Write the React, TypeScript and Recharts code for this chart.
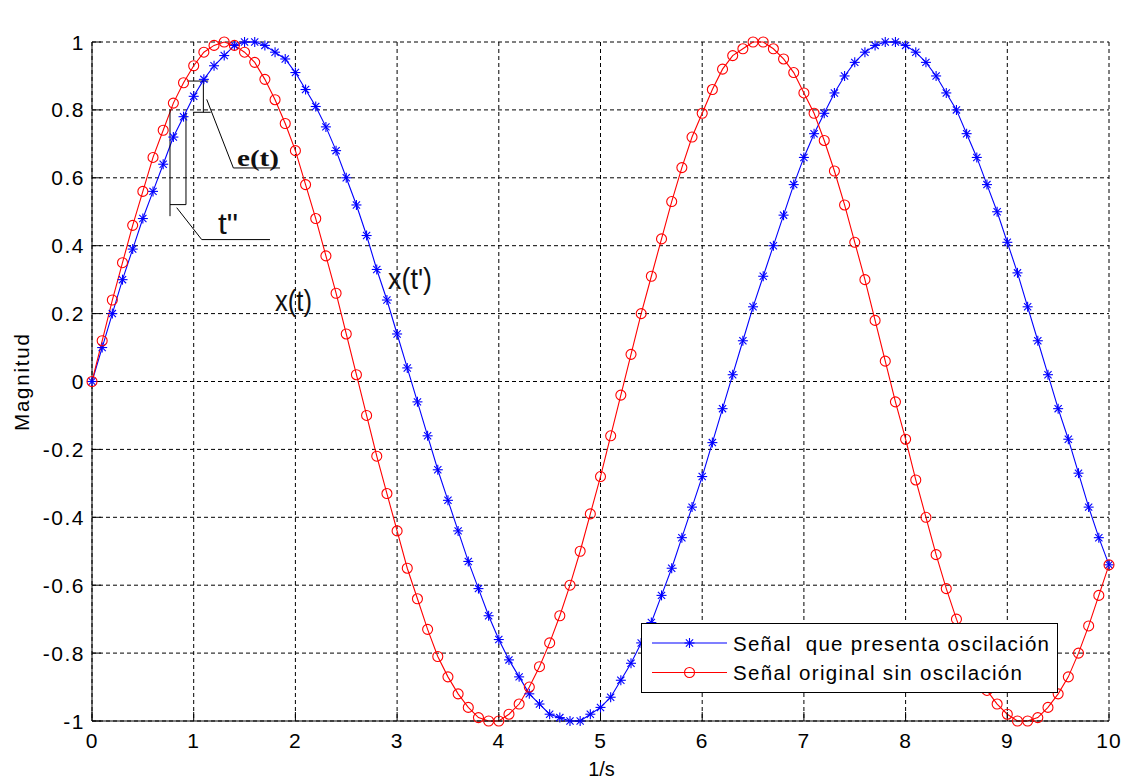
import React from 'react';
import {
  LineChart,
  Line,
  XAxis,
  YAxis,
  CartesianGrid,
  Legend,
  ReferenceLine,
  ReferenceDot,
} from 'recharts';

// Sample instants (s)
const timeValues = [
  0, 0.1, 0.2, 0.3, 0.4, 0.5, 0.6, 0.7, 0.8, 0.9,
  1, 1.1, 1.2, 1.3, 1.4, 1.5, 1.6, 1.7, 1.8, 1.9,
  2, 2.1, 2.2, 2.3, 2.4, 2.5, 2.6, 2.7, 2.8, 2.9,
  3, 3.1, 3.2, 3.3, 3.4, 3.5, 3.6, 3.7, 3.8, 3.9,
  4, 4.1, 4.2, 4.3, 4.4, 4.5, 4.6, 4.7, 4.8, 4.9,
  5, 5.1, 5.2, 5.3, 5.4, 5.5, 5.6, 5.7, 5.8, 5.9,
  6, 6.1, 6.2, 6.3, 6.4, 6.5, 6.6, 6.7, 6.8, 6.9,
  7, 7.1, 7.2, 7.3, 7.4, 7.5, 7.6, 7.7, 7.8, 7.9,
  8, 8.1, 8.2, 8.3, 8.4, 8.5, 8.6, 8.7, 8.8, 8.9,
  9, 9.1, 9.2, 9.3, 9.4, 9.5, 9.6, 9.7, 9.8, 9.9,
  10,
];

// Señal que presenta oscilación (azul, marcador *)
const oscillatingSignal = [
  0, 0.1, 0.2, 0.3, 0.39, 0.48, 0.56, 0.64, 0.72, 0.78,
  0.84, 0.89, 0.93, 0.96, 0.99, 1.0, 1.0, 0.99, 0.97, 0.95,
  0.91, 0.86, 0.81, 0.75, 0.68, 0.6, 0.52, 0.43, 0.33, 0.24,
  0.14, 0.04, -0.06, -0.16, -0.26, -0.35, -0.44, -0.53, -0.61, -0.69,
  -0.76, -0.82, -0.87, -0.92, -0.95, -0.98, -0.99, -1.0, -1.0, -0.98,
  -0.96, -0.93, -0.88, -0.83, -0.77, -0.71, -0.63, -0.55, -0.46, -0.37,
  -0.28, -0.18, -0.08, 0.02, 0.12, 0.22, 0.31, 0.4, 0.49, 0.58,
  0.66, 0.73, 0.79, 0.85, 0.9, 0.94, 0.97, 0.99, 1.0, 1.0,
  0.99, 0.97, 0.94, 0.9, 0.85, 0.8, 0.73, 0.66, 0.58, 0.5,
  0.41, 0.32, 0.22, 0.12, 0.02, -0.08, -0.17, -0.27, -0.37, -0.46,
  -0.54,
];

// Señal original sin oscilación (rojo, marcador o)
const originalSignal = [
  0, 0.12, 0.24, 0.35, 0.46, 0.56, 0.66, 0.74, 0.82, 0.88,
  0.93, 0.97, 0.99, 1.0, 0.99, 0.97, 0.94, 0.89, 0.83, 0.76,
  0.68, 0.58, 0.48, 0.37, 0.26, 0.14, 0.02, -0.1, -0.22, -0.33,
  -0.44, -0.55, -0.64, -0.73, -0.81, -0.87, -0.92, -0.96, -0.99, -1.0,
  -1.0, -0.98, -0.95, -0.9, -0.84, -0.77, -0.69, -0.6, -0.5, -0.39,
  -0.28, -0.16, -0.04, 0.08, 0.2, 0.31, 0.42, 0.53, 0.63, 0.72,
  0.79, 0.86, 0.92, 0.96, 0.98, 1.0, 1.0, 0.98, 0.95, 0.91,
  0.85, 0.79, 0.71, 0.62, 0.52, 0.41, 0.3, 0.18, 0.06, -0.06,
  -0.17, -0.29, -0.4, -0.51, -0.61, -0.7, -0.78, -0.85, -0.91, -0.95,
  -0.98, -1.0, -1.0, -0.99, -0.96, -0.92, -0.87, -0.8, -0.72, -0.63,
  -0.54,
];

const xTicks = [0, 1, 2, 3, 4, 5, 6, 7, 8, 9, 10];
const yTicks = [-1, -0.8, -0.6, -0.4, -0.2, 0, 0.2, 0.4, 0.6, 0.8, 1];

const titleText = 'Señal real y señal muestreada con error';
const xLabelText = '1/s';
const yLabelText = 'Magnitud';
const legendLabels = ['Señal  que presenta oscilación', 'Señal original sin oscilación'];

// Hand-drawn brackets marking e(t) and t'' (in axis units)
const bracketSegments: [number, number, number, number][] = [
  [0.936, 0.885, 1.143, 0.885],
  [1.095, 0.885, 1.095, 0.793],
  [0.996, 0.793, 1.167, 0.793],
  [1.128, 0.831, 1.39, 0.629],
  [1.39, 0.629, 1.849, 0.629],
  [0.767, 0.801, 0.767, 0.487],
  [0.924, 0.791, 0.924, 0.521],
  [0.767, 0.521, 0.924, 0.521],
  [0.833, 0.512, 1.079, 0.418],
  [1.079, 0.418, 1.75, 0.418],
];

// Text notes placed in axis units (left edge, baseline)
const notes = [
  { text: 'e(t)', x: 1.426, y: 0.636, serif: true },
  { text: 't"', x: 1.239, y: 0.433, serif: false },
  { text: 'x(t)', x: 1.799, y: 0.207, serif: false },
  { text: "x(t')", x: 2.911, y: 0.273, serif: false },
];

const chartData = timeValues.map((t, i) => ({
  t,
  oscillating: oscillatingSignal[i],
  original: originalSignal[i],
}));

const SANS = '"Liberation Sans", Arial, Helvetica, sans-serif';
const NARROW = '"Liberation Sans Narrow", "Arial Narrow", "Liberation Sans", Arial, sans-serif';
const SERIF = '"Liberation Serif", "Times New Roman", serif';
const BLUE = '#0000ff';
const RED = '#ff0000';

const noteStyle: Record<string, { size: number; length: number }> = {
  'e(t)': { size: 24, length: 42 },
  't"': { size: 30, length: 20 },
  'x(t)': { size: 29, length: 37 },
  "x(t')": { size: 29, length: 44 },
};

const Asterisk = ({ cx, cy, color }: { cx: number; cy: number; color: string }) => {
  const a = 5;
  const d = 3.6;
  return (
    <g stroke={color} strokeWidth={1.1} fill="none">
      <line x1={cx - a} y1={cy} x2={cx + a} y2={cy} />
      <line x1={cx} y1={cy - a} x2={cx} y2={cy + a} />
      <line x1={cx - d} y1={cy - d} x2={cx + d} y2={cy + d} />
      <line x1={cx - d} y1={cy + d} x2={cx + d} y2={cy - d} />
    </g>
  );
};

const Ring = ({ cx, cy, color }: { cx: number; cy: number; color: string }) => (
  <circle cx={cx} cy={cy} r={5} stroke={color} strokeWidth={1.1} fill="none" />
);

const XTick = (props: any) => {
  const { x, y, payload } = props;
  return (
    <text x={x} y={y} dy="0.71em" textAnchor="middle" fontSize={21} fontFamily={SANS} fill="#000" letterSpacing={1}>
      {String(payload.value)}
    </text>
  );
};

const YTick = (props: any) => {
  const { x, y, payload } = props;
  return (
    <text x={x} y={y} dy="0.36em" textAnchor="end" fontSize={21} fontFamily={SANS} fill="#000" letterSpacing={1.5}>
      {String(payload.value)}
    </text>
  );
};

const TitleLabel = (props: any) => {
  const vb = props.viewBox || { x: 92, y: 42, width: 1017 };
  return (
    <text
      x={vb.x + vb.width / 2 + 4}
      y={vb.y - 18}
      textAnchor="middle"
      fontSize={20.5}
      fontFamily={SANS}
      fill="#000"
      textLength={410}
      lengthAdjust="spacing"
    >
      {titleText}
    </text>
  );
};

const YLabel = (props: any) => {
  const vb = props.viewBox || { x: 0, y: 42, width: 92, height: 679 };
  const cx = 29;
  const cy = vb.y + vb.height / 2 + 1;
  return (
    <text
      x={cx}
      y={cy}
      transform={`rotate(-90 ${cx} ${cy})`}
      textAnchor="middle"
      fontSize={20.5}
      fontFamily={SANS}
      fill="#000"
      textLength={97}
      lengthAdjust="spacing"
    >
      {yLabelText}
    </text>
  );
};

const XLabel = (props: any) => {
  const vb = props.viewBox || { x: 92, y: 721, width: 1017, height: 61 };
  return (
    <text x={vb.x + vb.width / 2 + 1} y={vb.y + vb.height - 6} textAnchor="middle" fontSize={20} fontFamily={SANS} fill="#000">
      {xLabelText}
    </text>
  );
};

const LegendBox = () => (
  <svg width={418} height={71} style={{ display: 'block' }}>
    <rect x={0.5} y={0.5} width={416} height={69} fill="#fff" stroke="#000" strokeWidth={1} />
    <line x1={11} y1={20} x2={86} y2={20} stroke={BLUE} strokeWidth={1.1} />
    <Asterisk cx={48.5} cy={20} color={BLUE} />
    <text x={92} y={27.5} fontSize={20.5} fontFamily={SANS} fill="#000" textLength={316} lengthAdjust="spacing" style={{ whiteSpace: 'pre' }}>
      {legendLabels[0]}
    </text>
    <line x1={11} y1={49.5} x2={86} y2={49.5} stroke={RED} strokeWidth={1.1} />
    <Ring cx={48.5} cy={49.5} color={RED} />
    <text x={92} y={57} fontSize={20.5} fontFamily={SANS} fill="#000" textLength={289} lengthAdjust="spacing">
      {legendLabels[1]}
    </text>
  </svg>
);

export default function App() {
  return (
    <div style={{ position: 'absolute', left: 0, top: 0, width: 1131, height: 782, background: '#fff' }}>
      <LineChart width={1131} height={782} data={chartData} margin={{ top: 42, right: 22, bottom: 0, left: 0 }}>
        <CartesianGrid stroke="#000" strokeWidth={1} strokeDasharray="4 3" />
        <XAxis
          dataKey="t"
          type="number"
          domain={[0, 10]}
          ticks={xTicks}
          interval={0}
          height={61}
          axisLine={{ stroke: '#000', strokeWidth: 1 }}
          tickLine={{ stroke: '#000', strokeWidth: 1 }}
          tickSize={-9}
          tickMargin={21}
          tick={<XTick />}
          label={<XLabel />}
        />
        <XAxis
          xAxisId="top"
          orientation="top"
          dataKey="t"
          type="number"
          domain={[0, 10]}
          ticks={xTicks}
          interval={0}
          height={0}
          axisLine={{ stroke: '#000', strokeWidth: 1 }}
          tickLine={{ stroke: '#000', strokeWidth: 1 }}
          tickSize={-9}
          tick={false}
          label={<TitleLabel />}
        />
        <YAxis
          type="number"
          domain={[-1, 1]}
          ticks={yTicks}
          interval={0}
          width={92}
          axisLine={{ stroke: '#000', strokeWidth: 1 }}
          tickLine={{ stroke: '#000', strokeWidth: 1 }}
          tickSize={-9}
          tickMargin={16}
          tick={<YTick />}
          label={<YLabel />}
        />
        <YAxis
          yAxisId="right"
          orientation="right"
          type="number"
          domain={[-1, 1]}
          ticks={yTicks}
          interval={0}
          width={0}
          axisLine={{ stroke: '#000', strokeWidth: 1 }}
          tickLine={{ stroke: '#000', strokeWidth: 1 }}
          tickSize={-9}
          tick={false}
        />
        <Line
          dataKey="oscillating"
          type="linear"
          stroke={BLUE}
          strokeWidth={1.1}
          isAnimationActive={false}
          activeDot={false}
          dot={(p: any) => <Asterisk key={`a-${p.index}`} cx={p.cx} cy={p.cy} color={BLUE} />}
        />
        <Line
          dataKey="original"
          type="linear"
          stroke={RED}
          strokeWidth={1.1}
          isAnimationActive={false}
          activeDot={false}
          dot={(p: any) => <Ring key={`o-${p.index}`} cx={p.cx} cy={p.cy} color={RED} />}
        />
        {bracketSegments.map(([x1, y1, x2, y2], i) => (
          <ReferenceLine
            key={`seg-${i}`}
            segment={[{ x: x1, y: y1 }, { x: x2, y: y2 }]}
            stroke="#000"
            strokeWidth={1}
            ifOverflow="visible"
          />
        ))}
        {notes.map((n, i) => (
          <ReferenceDot
            key={`note-${i}`}
            x={n.x}
            y={n.y}
            r={0}
            ifOverflow="visible"
            shape={(p: any) => (
              <text
                x={p.cx}
                y={p.cy}
                fontSize={noteStyle[n.text].size}
                fontWeight={n.serif ? 'bold' : 'normal'}
                fontFamily={n.serif ? SERIF : NARROW}
                fill="#111"
                textLength={noteStyle[n.text].length}
                lengthAdjust="spacingAndGlyphs"
              >
                {n.text}
              </text>
            )}
          />
        ))}
        <Legend
          layout="vertical"
          align="center"
          verticalAlign="middle"
          wrapperStyle={{ position: 'absolute', left: 641, top: 623, width: 418, height: 71 }}
          content={() => <LegendBox />}
        />
      </LineChart>
    </div>
  );
}
